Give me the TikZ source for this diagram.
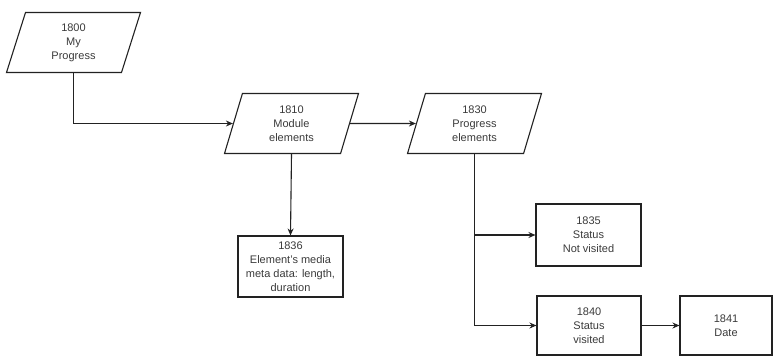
\documentclass[tikz,border=0pt]{standalone}
\usepackage{fontspec}
\setmainfont{Liberation Sans}
\usetikzlibrary{shapes.geometric,arrows.meta}
\definecolor{inkline}{HTML}{222222}
\definecolor{inktext}{HTML}{3A3A3A}
\tikzset{
  basebox/.style={draw=inkline, line width=1.1pt, text=inktext, align=center,
    font=\fontsize{11}{14}\selectfont, inner sep=0pt},
  iobox/.style={basebox, trapezium, trapezium left angle=63.4, trapezium right angle=116.6,
    trapezium stretches body, minimum width=134pt, minimum height=60pt},
  procbox/.style={basebox, rectangle},
  arr/.style={draw=inkline, line width=1.1pt, -{Stealth[length=7pt,width=6pt]}}
}
\begin{document}
\begin{tikzpicture}[x=1pt,y=-1pt]
\useasboundingbox (0,0) rectangle (774,357);
\node[iobox] (n1800) at (73.5,42.5) {1800\\My\\Progress};
\node[iobox] (n1810) at (291.5,123.5) {1810\\Module\\elements};
\node[iobox] (n1830) at (474.5,123.5) {1830\\Progress\\elements};
\node[procbox, minimum width=105pt, minimum height=61pt] (n1836) at (290.5,266.5)
  {1836\\Element's media\\meta data: length,\\duration};
\node[procbox, minimum width=105pt, minimum height=62pt] (n1835) at (588.5,235) {1835\\Status\\Not visited};
\node[procbox, minimum width=104pt, minimum height=59pt] (n1840) at (589,325.5) {1840\\Status\\visited};
\node[procbox, minimum width=92pt, minimum height=59pt] (n1841) at (726,325.5) {1841\\Date};
\draw[arr] (n1800.south) |- (n1810);
\draw[arr] (n1810) -- (n1830);
\draw[arr] (n1810.south) -- (n1836.north);
\draw[arr] (n1830.south) |- (n1835);
\draw[arr] (n1830.south) |- (n1840);
\draw[arr] (n1840) -- (n1841);
\end{tikzpicture}
\end{document}
